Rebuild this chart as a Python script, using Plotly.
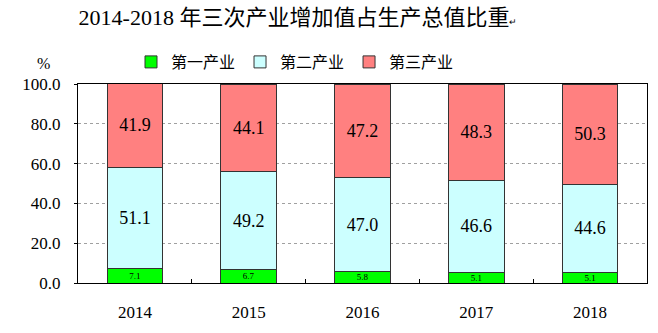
import plotly.graph_objects as go

years = ["2014", "2015", "2016", "2017", "2018"]
primary = [7.1, 6.7, 5.8, 5.1, 5.1]
secondary = [51.1, 49.2, 47.0, 46.6, 44.6]
tertiary = [41.9, 44.1, 47.2, 48.3, 50.3]
names = ["第一产业", "第二产业", "第三产业"]
colors = ["#00FF00", "#CCFFFF", "#FF8080"]
label_sizes = [9, 18, 18]

serif = "Liberation Serif, Times New Roman, serif"
cjk = "Noto Sans CJK SC"

L, R, T, B = 78, 11, 84, 50
W, H = 658, 333
pw = W - L - R
ph = H - T - B

def px_x(x):
    return (x - L) / pw

def px_y(y):
    return (H - B - y) / ph

fig = go.Figure()
for vals, name, col, fs in zip([primary, secondary, tertiary], names, colors, label_sizes):
    fig.add_trace(go.Bar(
        x=years, y=vals, name=name,
        marker=dict(color=col, line=dict(color="#333333", width=1)),
        text=[f"{v:.1f}" for v in vals],
        textposition="inside", insidetextanchor="middle", textangle=0,
        constraintext="none",
        textfont=dict(family=serif, size=fs, color="black"),
        width=0.49,
    ))

fig.update_layout(
    barmode="stack",
    width=W, height=H,
    margin=dict(l=L, r=R, t=T, b=B),
    paper_bgcolor="white", plot_bgcolor="white",
    title=dict(
        text="2014-2018 年三次产业增加值占生产总值比重<span style='font-size:9px'>↵</span>",
        x=298 / W, xanchor="center", y=1 - 17 / H, yanchor="middle",
        font=dict(family=f"{serif}, {cjk}", size=22, color="black"),
    ),
    legend=dict(
        orientation="h", x=px_x(131), xanchor="left", y=px_y(62), yanchor="middle",
        font=dict(family=cjk, size=16, color="black"),
        itemwidth=30, traceorder="normal",
    ),
    showlegend=True,
    xaxis=dict(
        type="category", tickson="boundaries", ticks="inside", ticklen=4,
        tickcolor="black", showline=True, linecolor="black", linewidth=1,
        mirror=True, tickfont=dict(family=serif, size=17, color="black"),
        ticklabelstandoff=14,
    ),
    yaxis=dict(
        range=[0, 100], dtick=20, tickformat=".1f",
        showgrid=True, gridcolor="#A0A0A0", griddash="dot", gridwidth=1,
        showline=True, linecolor="black", linewidth=1, mirror=True,
        ticks="outside", ticklen=3, tickcolor="black",
        tickfont=dict(family=serif, size=17, color="black"),
        ticklabelstandoff=10, zeroline=False,
    ),
    annotations=[dict(
        text="%", x=px_x(43), y=px_y(63), xref="paper", yref="paper",
        xanchor="center", yanchor="middle", showarrow=False,
        font=dict(family=serif, size=16, color="black"),
    )],
)

fig.write_html("out.html")
